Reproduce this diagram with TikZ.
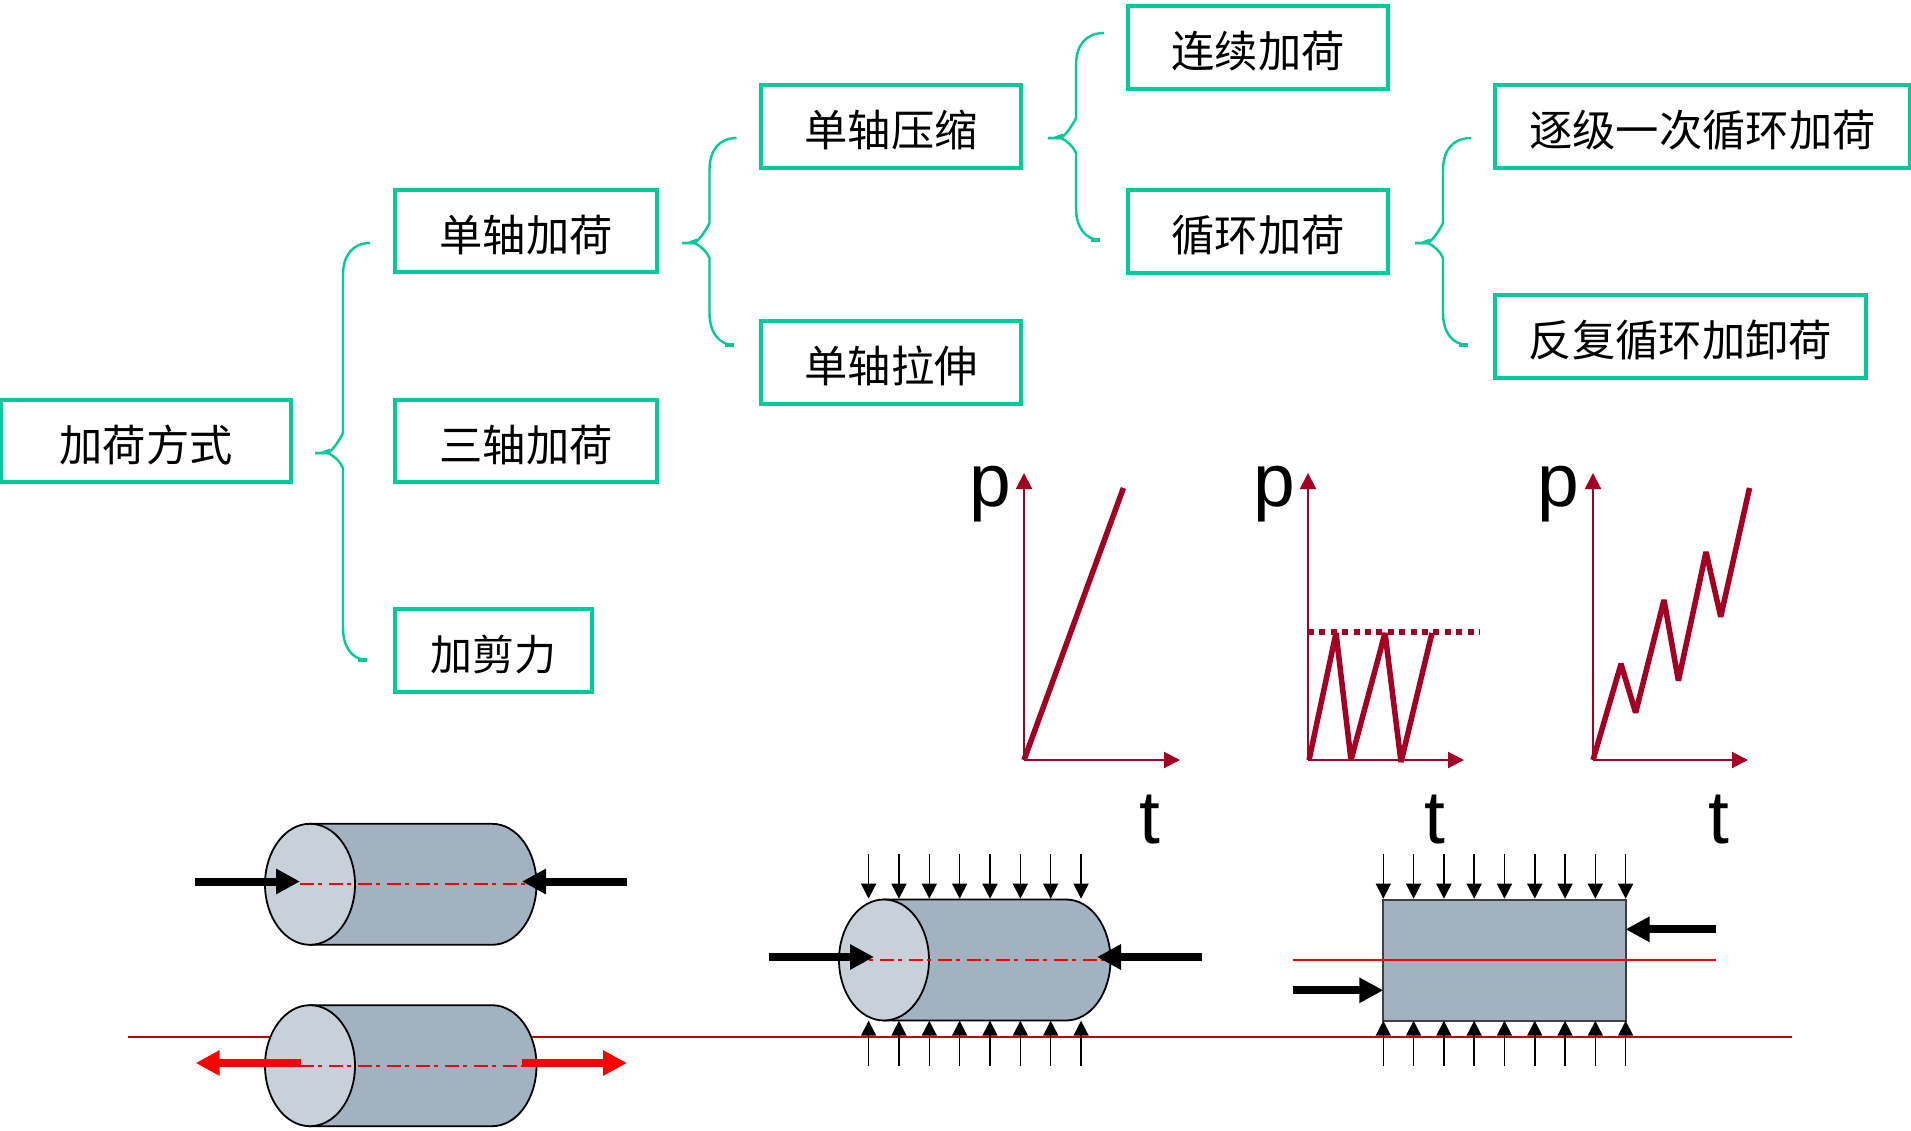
\documentclass[tikz,border=0pt]{standalone}
\usepackage{fontspec}
\usetikzlibrary{arrows.meta}
\newfontfamily\cjk{Noto Sans CJK SC}
\newfontfamily\latinf{Liberation Sans}
\definecolor{boxgreen}{HTML}{00CC99}
\definecolor{darkred}{HTML}{A50021}
\definecolor{cylbody}{HTML}{A3B2C1}
\definecolor{cylface}{HTML}{C8D0DA}
\definecolor{axisred}{HTML}{CC0000}
\tikzset{
  box/.style={draw=boxgreen,line width=3.2pt,fill=white,inner sep=0pt,text height=45pt,text depth=4.4pt,
    font=\cjk\fontsize{43.3}{50}\selectfont,text=black},
  bracegreen/.style={draw=boxgreen,line width=2.4pt},
  axis/.style={draw=darkred,line width=2pt,-{Triangle[length=16pt,width=16pt]}},
  curve/.style={draw=darkred,line width=5.5pt,line join=miter,miter limit=3},
  axlabel/.style={font=\latinf\fontsize{75}{80}\selectfont,anchor=base,inner sep=0pt},
  outline/.style={draw=black,line width=1.8pt},
  centerl/.style={draw=red,line width=2pt,dash pattern=on 14pt off 4pt on 4pt off 7pt},
  bigarrow/.style={line width=8pt,-{Triangle[length=24pt,width=24pt]}},
  smallarrow/.style={draw=black,line width=1.5pt,-{Triangle[length=15pt,width=15pt]}},
}
% brace: name, x of the spine, y top, y tip, y bottom, x top end, x bottom end, x tip
\newcommand\myBrace[8]{%
  \coordinate (#1top) at (#6,#3);
  \coordinate (#1bot) at (#7,#5);
  \coordinate (#1tip) at (#8,#4);
  \draw[bracegreen] (#1top) .. controls ({#2+10},#3) and (#2,{#3+12}) .. (#2,{#3+32})
    -- (#2,{#4-20}) .. controls ({#2-3},{#4-14}) and ({#2-9},{#4-4}) .. ({#2-15},#4)
    -- (#1tip);
  \draw[bracegreen] ({#2-15},#4) .. controls ({#2-9},{#4+3}) and ({#2-3},{#4+8}) .. (#2,{#4+15})
    -- (#2,{#5-32}) .. controls (#2,{#5-12}) and ({#2+10},#5) .. (#1bot);
  \fill[boxgreen] ({#8+6},{#4-1.2}) -- ({#8+15},{#4-4.5}) -- ({#8+15},{#4+1.3}) -- (#8,{#4+1.3}) -- (#8,{#4-1.2}) -- cycle;
  \draw[boxgreen,line width=3.4pt] ({#7-9},#5) -- (#1bot);
}
% cylinder: x of the face centre, y of the centre
\newcommand\myCyl[2]{%
  \begin{scope}[shift={(#1,#2)}]
    \path[fill=cylbody,outline] (0,-60.5) -- (182,-60.5) .. controls (207,-60.5) and (226.5,-33) .. (226.5,0)
      .. controls (226.5,33) and (207,60.5) .. (182,60.5) -- (0,60.5) -- cycle;
    \path[fill=cylface,outline] (0,0) ellipse [x radius=45,y radius=60.5];
  \end{scope}
}
\begin{document}
\begin{tikzpicture}[x=1pt,y=-1pt]
\useasboundingbox (0,0) rectangle (1911,1131);

% ---- tree boxes
\node[box,minimum width=290pt,minimum height=82pt] (A) at (146,441) {加荷方式\hspace{8pt}};
\node[box,minimum width=262pt,minimum height=82pt] (B) at (526,231) {单轴加荷\hspace{8pt}};
\node[box,minimum width=262pt,minimum height=82pt] (C) at (526,441) {三轴加荷\hspace{8pt}};
\node[box,minimum width=197pt,minimum height=83pt] (D) at (493.5,650.5) {\fontsize{42}{50}\selectfont 加剪力\hspace{10pt}};
\node[box,minimum width=260pt,minimum height=83pt] (E) at (891,126.5) {单轴压缩\hspace{2pt}};
\node[box,minimum width=260pt,minimum height=83pt] (F) at (891,362.5) {单轴拉伸\hspace{2pt}};
\node[box,minimum width=260pt,minimum height=83pt] (G) at (1258,47.5) {连续加荷};
\node[box,minimum width=260pt,minimum height=83pt] (H) at (1258,231.5) {循环加荷};
\node[box,minimum width=415pt,minimum height=83pt] (I) at (1702.5,126.5) {逐级一次循环加荷\hspace{3pt}};
\node[box,minimum width=371pt,minimum height=83pt] (J) at (1680.5,336.5) {反复循环加卸荷\hspace{14pt}};

% ---- braces
\myBrace{bA}{343}{243}{453}{660}{370}{367}{315}
\myBrace{bB}{709.5}{138}{243}{345}{736.5}{734}{682}
\myBrace{bE}{1076}{33}{138}{240}{1104}{1100}{1048}
\myBrace{bH}{1443}{138}{243}{345}{1471}{1468}{1415}

% ---- graph 1
\coordinate (o1) at (1024,760);
\coordinate (y1) at (1024,473);
\coordinate (x1) at (1180,760);
\draw[axis] (o1) -- (y1);
\draw[axis] (o1) -- (x1);
\draw[curve] (o1) -- (1123.4,488);
\node[axlabel] (p1) at (990,506) {p};
\node[axlabel] (t1) at (1150,843) {t};

% ---- graph 2
\coordinate (o2) at (1308,760);
\coordinate (y2) at (1308,473);
\coordinate (x2) at (1464,760);
\draw[axis] (o2) -- (y2);
\draw[axis] (o2) -- (x2);
\draw[draw=darkred,line width=6pt,dash pattern=on 6pt off 5.4pt] (1308,632) -- (1480,632);
\draw[curve] (1309,760) -- (1336,633) -- (1351,760) -- (1385,633) -- (1401,762) -- (1432,633);
\node[axlabel] (p2) at (1274,506) {p};
\node[axlabel] (t2) at (1435,843) {t};

% ---- graph 3
\coordinate (o3) at (1593,760);
\coordinate (y3) at (1593,473);
\coordinate (x3) at (1748,760);
\draw[axis] (o3) -- (y3);
\draw[axis] (o3) -- (x3);
\draw[curve] (o3) -- (1621,664) -- (1635.6,712.7) -- (1664,600) -- (1678.4,680.7) -- (1706,552) -- (1720.7,616.7) -- (1749.5,488);
\node[axlabel] (p3) at (1558,506) {p};
\node[axlabel] (t3) at (1719,843) {t};

% ---- long red line
\draw[axisred,line width=2pt] (128,1037) -- (1791.5,1037);

% ---- cylinder 1, compression
\myCyl{310}{884.3}
\draw[centerl] (300,884.3) -- (525,884.3);
\draw[bigarrow,black] (195,881.5) -- (300,881.5);
\draw[bigarrow,black] (627,881.5) -- (522,881.5);

% ---- cylinder 2, tension
\myCyl{310}{1065.7}
\draw[centerl] (300,1066) -- (525,1066);
\draw[bigarrow,red] (300.7,1063) -- (195.7,1063);
\draw[bigarrow,red] (522,1063) -- (627,1063);

% ---- cylinder 3, triaxial
\myCyl{884}{960}
\draw[centerl] (793,959.7) -- (1157,959.7);
\draw[bigarrow,black] (769,957) -- (874,957);
\draw[bigarrow,black] (1201.5,957) -- (1097,957);
\foreach \i in {0,...,7}{
  \draw[smallarrow] ({868.6+30.35*\i},854) -- ({868.6+30.35*\i},898.7);
  \draw[smallarrow] ({868.6+30.35*\i},1066) -- ({868.6+30.35*\i},1020.7);
}

% ---- rectangle section
\draw[fill=cylbody,draw=black!75,line width=2pt] (1383.3,899.5) rectangle (1625.6,1020.5);
\draw[red,line width=2pt] (1292.7,959.7) -- (1716,959.7);
\draw[bigarrow,black] (1716,929.3) -- (1625.6,929.3);
\draw[bigarrow,black] (1292.7,990.3) -- (1383.3,990.3);
\foreach \i in {0,...,8}{
  \draw[smallarrow] ({1383.3+30.29*\i},854) -- ({1383.3+30.29*\i},898.7);
  \draw[smallarrow] ({1383.3+30.29*\i},1066) -- ({1383.3+30.29*\i},1020.7);
}
\end{tikzpicture}
\end{document}
